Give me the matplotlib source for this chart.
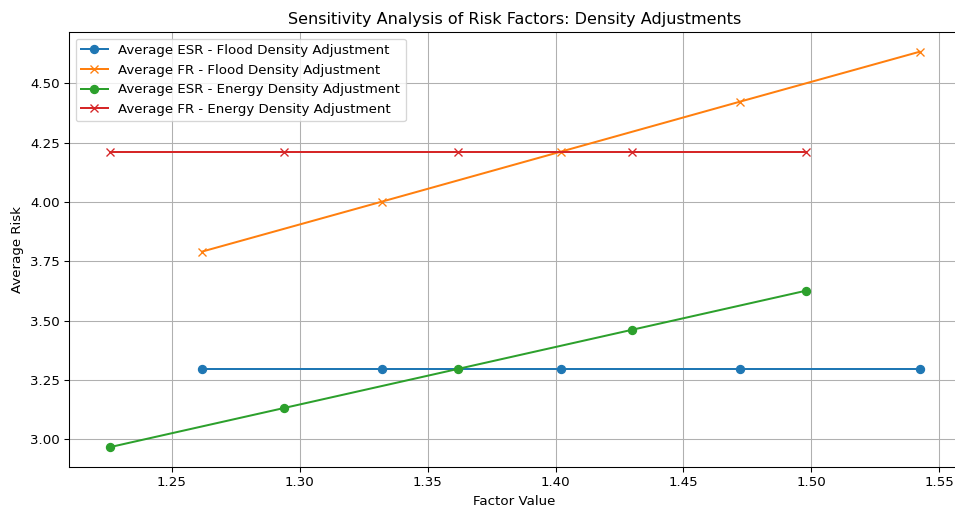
import numpy as np
import matplotlib
matplotlib.use("Agg")
import matplotlib.pyplot as plt

# factor values used for each adjustment (base value scaled by 0.90 .. 1.10)
flood_factor = [1.2619, 1.3320, 1.4021, 1.4722, 1.5423]
energy_factor = [1.2256, 1.2937, 1.3618, 1.4299, 1.4980]

# average risk per factor value
esr_flood = [3.296, 3.296, 3.296, 3.296, 3.296]
fr_flood = [3.791, 4.001, 4.212, 4.423, 4.633]
esr_energy = [2.966, 3.131, 3.296, 3.461, 3.626]
fr_energy = [4.212, 4.212, 4.212, 4.212, 4.212]

DPI = 96
fig = plt.figure(figsize=(955 / DPI, 506 / DPI), dpi=DPI)
ax = fig.add_axes([69 / 955, 39 / 506, 891 / 955, 435 / 506])

ax.plot(flood_factor, esr_flood, marker='o', label='Average ESR - Flood Density Adjustment')
ax.plot(flood_factor, fr_flood, marker='x', label='Average FR - Flood Density Adjustment')
ax.plot(energy_factor, esr_energy, marker='o', label='Average ESR - Energy Density Adjustment')
ax.plot(energy_factor, fr_energy, marker='x', label='Average FR - Energy Density Adjustment')

ax.set_title('Sensitivity Analysis of Risk Factors: Density Adjustments')
ax.set_xlabel('Factor Value')
ax.set_ylabel('Average Risk')
ax.legend(loc='upper left')
ax.grid(True)

fig.savefig('out.png', dpi=DPI)
